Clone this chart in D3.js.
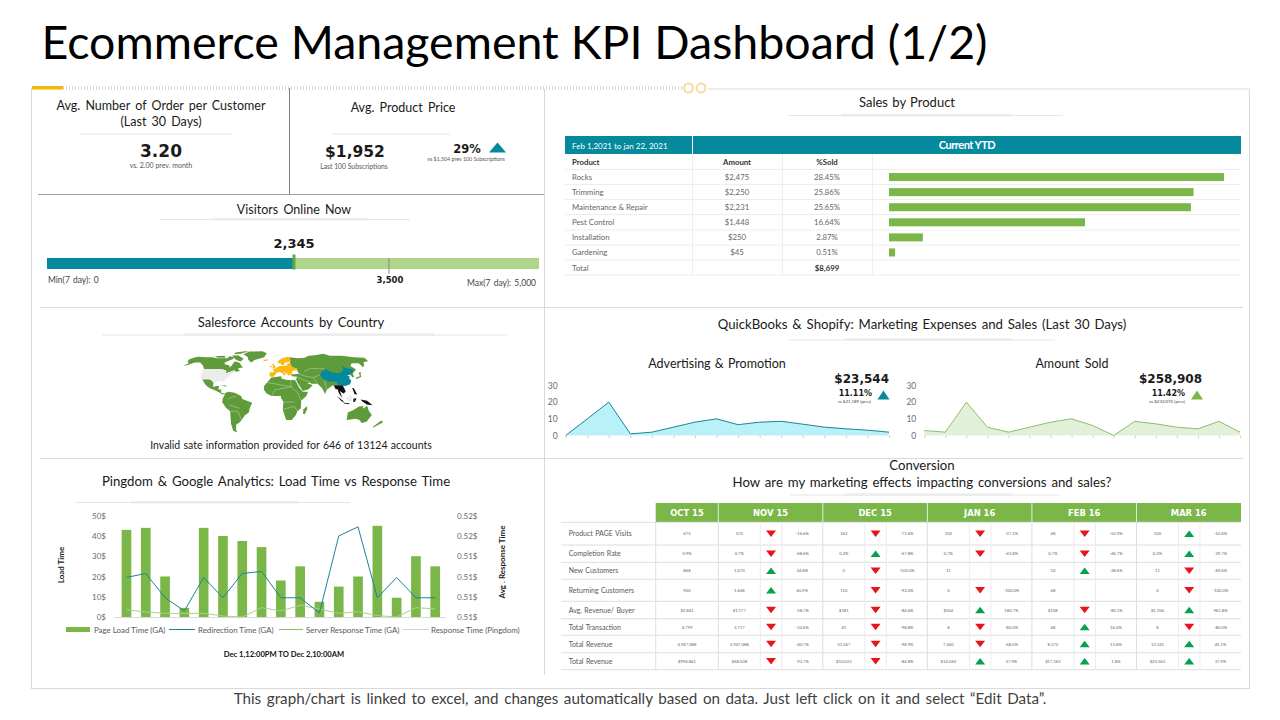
<!DOCTYPE html>
<html>
<head>
<meta charset="utf-8">
<script src="https://cdn.jsdelivr.net/npm/d3@7"></script>
<style>
  html, body { margin: 0; padding: 0; background: #fff; }
  svg { display: block; }
  text { font-family: Lato, "Open Sans", sans-serif; fill: #1a1a1a; }
  .num { font-family: "DejaVu Sans", sans-serif; font-weight: 700; }
  .axis text { fill: #6b6b6b; font-size: 8px; }
  .axis path { display: none; }
  .axis line { stroke: #cfcfcf; }
</style>
</head>
<body>
<div id="chart"></div>
<script>
const teal = "#05899c";
const green = "#7ab648";

// Sales by Product
const products = ["Rocks", "Trimming", "Maintenance & Repair", "Pest Control", "Installation", "Gardening"];
const productAmounts = [2475, 2250, 2231, 1448, 250, 45];
const productShares = ["28.45%", "25.86%", "25.65%", "16.64%", "2.87%", "0.51%"];

// Visitors gauge
const gaugeMax = 5000;
const gaugeFill = 2510; // length of the teal bar as drawn, a bit longer than the 2,345 label
const gaugeTarget = 3475; // tick as drawn, labelled 3,500

// QuickBooks & Shopify
const adSpend = [0, 10, 20, 1, 2, 5, 8, 10, 6.5, 8, 8.5, 6.8, 5, 4, 3.2, 2];
const amountSold = [3, 2, 20, 5, 2, 5, 8, 10, 6, 0, 8.5, 7, 5, 4, 8.5, 2];
const areaTicks = [0, 10, 20, 30];

// Pingdom & Google Analytics
const pageLoad = [43, 44, 20, 4.5, 44, 40, 37.5, 34.5, 18, 25, 7.5, 15, 20, 45, 9.5, 30, 25];
const redirection = [0.5139, 0.5143, 0.5119, 0.5106, 0.5139, 0.5119, 0.5143, 0.5145, 0.5119, 0.5119, 0.5104, 0.5180, 0.5189, 0.5119, 0.5139, 0.5119, 0.5119];
const serverResponse = [3.5, 2.5, 1.8, 1.8, 1.8, 0.5, 0, 4.6, 3, 5.8, 4, 1.8, 2.6, 0.7, 0, 4.6, 4];
const loadTicks = [0, 10, 20, 30, 40, 50];
const responseTicks = [0.510, 0.512, 0.514, 0.516, 0.518, 0.520];
const responseLabels = ["0.51$", "0.51$", "0.51$", "0.51$", "0.52$", "0.52$"];
const legendNames = ["Page Load Time (GA)", "Redirection Time (GA)", "Server Response Time (GA)", "Response Time (Pingdom)"];

// Conversion table
const months = ["NOV 15", "DEC 15", "JAN 16", "FEB 16", "MAR 16"];
const rowNames = ["Product PAGE Visits", "Completion Rate", "New Customers", "Returning Customers", "Avg. Revenue/ Buyer", "Total Transaction", "Total Revenue", "Total Revenue"];
const octValues = ["475", "0.9%", "868", "900", "$2,841", "4,799", "4,947,088", "$994,841"];
const monthValues = [
  ["570", "162", "102", "48", "100"],
  ["0.7%", "0.2%", "0.7%", "0.7%", "0.2%"],
  ["1,070", "0", "11", "10", "11"],
  ["1,448", "116", "0", "48", "0"],
  ["$1,177", "$181", "$504", "$108", "$1,104"],
  ["3,717", "41", "8", "48", "8"],
  ["2,947,088", "31,047", "7,560", "8,372", "13,141"],
  ["$68,508", "$10,022", "$14,560", "$17,162", "$23,563"]
];
const monthChanges = [
  ["-16.6%", "-71.6%", "-37.1%", "-52.9%", "-52.6%"],
  ["-68.6%", "-67.8%", "-43.8%", "-46.7%", "-39.7%"],
  ["24.8%", "-100.0%", "", "-28.6%", "-69.6%"],
  ["60.9%", "-92.0%", "-100.0%", "", "-100.0%"],
  ["-58.7%", "-84.6%", "180.7%", "-80.1%", "961.8%"],
  ["-22.6%", "-98.8%", "-80.0%", "16.0%", "-80.0%"],
  ["-40.7%", "-98.9%", "-68.0%", "13.8%", "45.1%"],
  ["-93.7%", "-84.8%", "37.9%", "1.8%", "37.9%"]
];
const monthArrows = [
  ["d", "d", "d", "d", "u"],
  ["d", "u", "d", "d", "u"],
  ["u", "d", "", "u", "d"],
  ["u", "d", "d", "", "d"],
  ["d", "d", "u", "d", "u"],
  ["d", "d", "d", "u", "d"],
  ["d", "d", "d", "u", "u"],
  ["d", "d", "u", "u", "u"]
];
const rowEdges = [522.3, 545, 562.3, 579.3, 601.3, 618.7, 635.3, 652.7, 669.7];

// Map outlines, rough [lon, lat] rings
const mapGreen = [
  [[-168,66],[-162,70],[-156,71],[-141,70],[-128,70],[-115,68],[-108,68],[-95,68],[-94,72],[-85,70],[-82,67],[-94,60],[-92,57],[-82,55],[-80,51],[-78,55],[-77,62],[-70,61],[-65,59],[-60,54],[-56,52],[-65,50],[-60,46],[-66,44],[-70,47],[-76,44],[-83,42],[-83,46],[-90,48],[-95,49],[-123,49],[-130,55],[-140,60],[-150,60],[-158,56],[-165,54],[-160,59],[-166,62]],
  [[-90,73],[-78,74],[-62,67],[-65,62],[-75,65],[-85,70]],
  [[-90,80],[-70,83],[-62,82],[-75,77],[-88,76]],
  [[-125,72],[-105,73],[-100,69],[-115,69]],
  [[-60,82],[-30,83],[-18,78],[-22,70],[-40,65],[-44,60],[-52,65],[-55,70],[-68,76]],
  [[-117,32],[-106,32],[-101,30],[-97,26],[-97,20],[-90,21],[-87,21],[-88,16],[-83,15],[-83,10],[-78,9],[-80,7],[-85,10],[-92,14],[-100,17],[-105,20],[-110,24]],
  [[-84,22],[-75,20],[-78,22.5]],
  [[-78,9],[-72,12],[-62,10],[-52,5],[-50,0],[-35,-6],[-39,-15],[-41,-22],[-48,-27],[-54,-34],[-58,-38],[-65,-42],[-68,-50],[-68,-55],[-74,-52],[-73,-40],[-70,-20],[-76,-14],[-81,-5],[-80,1],[-77,7]],
  [[-17,15],[-17,21],[-10,30],[-6,35],[10,37],[11,33],[20,31],[32,31],[35,25],[38,18],[43,12],[51,12],[48,5],[40,-3],[40,-15],[35,-20],[33,-26],[27,-34],[18,-34],[12,-17],[13,-5],[9,2],[9,5],[-5,5],[-13,9]],
  [[49,-12],[50,-16],[47,-25],[44,-24],[44,-17]],
  [[28,59],[30,70],[45,68],[60,69],[70,73],[85,74],[105,77],[115,73],[140,73],[160,70],[180,69],[178,63],[165,60],[162,56],[156,52],[155,59],[142,59],[135,54],[140,48],[132,43],[130,42],[129,36],[126,35],[125,39],[121,40],[108,21],[100,20],[92,22],[90,22],[80,15],[77,8],[73,18],[67,25],[57,25],[56,27],[51,25],[56,24],[59,22],[52,16],[43,13],[39,20],[35,28],[34,32],[36,36],[28,37],[26,40],[40,41],[38,47],[38,50],[30,52]],
  [[130,32],[136,34],[141,36],[142,40],[145,44],[141,43],[139,37],[132,35]],
  [[114,-22],[122,-18],[130,-12],[136,-12],[136,-16],[142,-11],[146,-19],[153,-26],[150,-37],[143,-39],[137,-34],[130,-32],[116,-34]],
  [[173,-35],[178,-38],[168,-47],[167,-45]]
];
const mapGray = [
  [[-124,49],[-95,49],[-90,48],[-83,46],[-83,42],[-76,44],[-70,47],[-66,44],[-70,42],[-75,38],[-76,35],[-81,31],[-80,25],[-83,29],[-90,29],[-97,26],[-101,30],[-106,32],[-117,32],[-122,37]],
  [[109,1],[116,7],[119,1],[116,-4],[110,-3]]
];
const mapYellow = [
  [[-9,37],[-9,43],[-1,44],[-4,48],[3,51],[8,54],[14,54],[21,55],[24,59],[28,59],[30,52],[38,50],[38,47],[30,46],[28,41],[23,38],[20,41],[13,45],[18,40],[15,38],[12,42],[8,44],[3,43],[0,39],[-2,36],[-5,36]],
  [[5,59],[5,62],[14,68],[25,71],[30,70],[30,62],[22,60],[18,60],[16,56],[12,56],[10,59]],
  [[-5,50],[1,51],[0,54],[-3,58],[-6,57],[-3,54]],
  [[-10,52],[-6,52],[-6,55],[-9,54]],
  [[-24,65],[-14,66],[-14,64],[-20,63]]
];
const mapTeal = [
  [[74,39],[80,45],[87,49],[97,43],[108,42],[117,47],[120,53],[127,50],[135,48],[131,43],[124,40],[121,39],[118,39],[122,37],[120,33],[122,30],[118,24],[110,21],[106,22],[100,22],[98,28],[88,28],[79,31]]
];
const mapBlack = [
  [[92,22],[100,22],[106,22],[108,16],[109,12],[105,9],[100,13],[103,2],[100,6],[98,10],[97,16],[94,16]],
  [[95,5],[104,-3],[106,-6],[101,-3]],
  [[105,-6],[114,-7],[114,-8.5],[106,-7.5]],
  [[120,1],[125,1],[122,-5],[120,-5]],
  [[131,-1],[141,-3],[150,-10],[141,-9],[134,-4]],
  [[120,18],[122,18],[124,13],[126,7],[122,8],[121,13]]
];
const mapBorders = [
  [[-13,27],[25,20],[25,31]], [[-5,5],[0,15],[25,20],[35,10],[40,-3]], [[12,-17],[30,-12],[35,-20]], [[13,-5],[30,-5]],
  [[-70,-20],[-58,-20],[-54,-34]], [[-72,0],[-60,5]], [[-70,-10],[-55,-15]],
  [[40,41],[50,37],[62,35],[67,25]], [[62,35],[74,39]], [[50,45],[62,50],[87,49]], [[36,36],[48,30],[56,27]], [[80,15],[79,31]]
];

const svg = d3.select("#chart").append("svg").attr("width", 1280).attr("height", 720);

function label(x, y, txt, size, opts = {}) {
  return svg.append("text")
    .attr("x", x).attr("y", y)
    .attr("text-anchor", opts.anchor || "middle")
    .attr("font-size", size)
    .attr("class", opts.cls || null)
    .attr("font-weight", opts.weight || null)
    .attr("word-spacing", opts.spacing || null)
    .style("fill", opts.fill || null)
    .text(txt);
}

function underline(x0, x1, t0, t1, y) {
  svg.append("rect").attr("x", t0).attr("y", y - 2).attr("width", t1 - t0).attr("height", 3).attr("fill", "#f2f2f2");
  svg.append("line").attr("x1", x0).attr("x2", x1).attr("y1", y).attr("y2", y).attr("stroke", "#e6e6e6");
}

function rule(x1, y1, x2, y2, color, w) {
  return svg.append("line").attr("x1", x1).attr("y1", y1).attr("x2", x2).attr("y2", y2)
    .attr("stroke", color).attr("stroke-width", w || 1);
}

function triangle(cx, cy, w, h, color, down) {
  const pts = down
    ? [[cx - w / 2, cy - h / 2], [cx + w / 2, cy - h / 2], [cx, cy + h / 2]]
    : [[cx - w / 2, cy + h / 2], [cx + w / 2, cy + h / 2], [cx, cy - h / 2]];
  svg.append("polygon").attr("points", pts.join(" ")).attr("fill", color);
}

// title and footer
label(41.5, 59, "Ecommerce Management KPI Dashboard (1/2)", 46.5, { anchor: "start", fill: "#000" });
label(640, 704, "This graph/chart is linked to excel, and changes automatically based on data. Just left click on it and select “Edit Data”.", 15.2, { fill: "#404040", spacing: 1.7 });

// frame
rule(31.5, 88, 31.5, 688.5, "#d9d9d9");
rule(1249.5, 89, 1249.5, 688.5, "#d9d9d9");
rule(31, 688.5, 1250, 688.5, "#d9d9d9");
rule(708, 89, 1250, 89, "#dddddd");
rule(63, 88, 683, 88, "#d6d6d6", 3.5).attr("stroke-dasharray", "1 2");
svg.append("rect").attr("x", 32).attr("y", 86).attr("width", 31).attr("height", 3.5).attr("fill", "#f5b800");
[688.5, 701].forEach(cx => {
  svg.append("circle").attr("cx", cx).attr("cy", 88).attr("r", 4.5)
    .attr("fill", "#fff").attr("stroke", "#f6dc9a").attr("stroke-width", 2);
});

// panel dividers
rule(289.5, 88, 289.5, 194, "#7f7f7f");
rule(38, 194.5, 544, 194.5, "#a0a0a0");
rule(544.5, 89, 544.5, 675, "#d9d9d9");
rule(40, 307.5, 1243, 307.5, "#d9d9d9");
rule(40, 458.5, 1243, 458.5, "#d9d9d9");

// top left cards
label(161, 110, "Avg. Number of Order per Customer", 12.5, { spacing: 2 });
label(161, 126, "(Last 30 Days)", 12.5, { spacing: 2 });
underline(80, 232, 80, 80, 134);
label(161, 157, "3.20", 17, { cls: "num" });
label(161, 168, "vs. 2.00 prev. month", 7, { fill: "#555" });
label(403, 112, "Avg. Product Price", 12.5, { spacing: 2 });
underline(332, 450, 332, 332, 134);
label(355, 157, "$1,952", 15.5, { cls: "num" });
label(354, 169, "Last 100 Subscriptions", 6.8, { fill: "#555" });
label(467, 153, "29%", 11.5, { cls: "num" });
triangle(497.5, 147.5, 17, 10, teal);
label(466, 161, "vs $1,504 prev 100 Subscriptions", 5.3, { fill: "#555" });

// visitors gauge
label(294, 214, "Visitors Online Now", 12.5, { spacing: 2 });
underline(160, 410, 213, 368, 219.5);
label(294, 248, "2,345", 13, { cls: "num" });
const gaugeX = d3.scaleLinear().domain([0, gaugeMax]).range([47, 539]);
svg.append("rect").attr("x", gaugeX(0)).attr("y", 258).attr("width", gaugeX(gaugeMax) - gaugeX(0)).attr("height", 11).attr("fill", "#aed58a");
svg.append("rect").attr("x", gaugeX(0)).attr("y", 258).attr("width", gaugeX(gaugeFill) - gaugeX(0)).attr("height", 11).attr("fill", teal);
svg.append("rect").attr("x", gaugeX(gaugeFill) - 1.5).attr("y", 254.5).attr("width", 3).attr("height", 15).attr("fill", "#62a845");
rule(gaugeX(gaugeTarget), 258, gaugeX(gaugeTarget), 274, "#8a8a8a");
label(48, 283, "Min(7 day): 0", 8.5, { anchor: "start", fill: "#444", spacing: 1 });
label(gaugeX(gaugeTarget) + 1, 283, "3,500", 8.5, { cls: "num" });
label(536, 286, "Max(7 day): 5,000", 8.5, { anchor: "end", fill: "#444", spacing: 1 });

// sales by product table
label(907, 107, "Sales by Product", 13, { spacing: 1 });
underline(788, 1063, 842, 1012, 115.5);
svg.append("rect").attr("x", 565).attr("y", 136).attr("width", 676).attr("height", 18).attr("fill", teal);
rule(692.5, 136, 692.5, 154, "#fff");
label(572, 149, "Feb 1,2021 to jan 22, 2021", 8, { anchor: "start", fill: "#fff" });
label(967, 149, "Current YTD", 11, { fill: "#fff", weight: 700 }).attr("letter-spacing", -0.5);
label(572, 165, "Product", 7.8, { anchor: "start", weight: 700, fill: "#333" });
label(737, 165, "Amount", 7.8, { weight: 700, fill: "#333" });
label(827, 165, "%Sold", 7.8, { weight: 700, fill: "#333" });

const salesRow = d3.scaleBand().domain(products).range([169.5, 260]);
const salesBar = d3.scaleLinear().domain([0, d3.max(productAmounts)]).range([889, 1224]);
[169.5, 184.5, 199.5, 214.5, 230, 245, 260, 275].forEach(y => rule(565, y, 1241, y, "#eef0e6"));
[692.5, 782.5, 872.5].forEach(x => rule(x, 154, x, 275, "#eef0e6"));
products.forEach((p, i) => {
  const mid = salesRow(p) + salesRow.bandwidth() / 2;
  label(572, mid + 3, p, 7.8, { anchor: "start", fill: "#666" });
  label(737, mid + 3, "$" + d3.format(",")(productAmounts[i]), 7.8, { fill: "#666" });
  label(827, mid + 3, productShares[i], 7.8, { fill: "#666" });
});
svg.append("g").selectAll("rect").data(productAmounts).join("rect")
  .attr("x", salesBar(0))
  .attr("y", (d, i) => salesRow(products[i]) + salesRow.bandwidth() / 2 - 4)
  .attr("width", d => salesBar(d) - salesBar(0))
  .attr("height", 8)
  .attr("fill", green);
label(572, 271, "Total", 7.8, { anchor: "start", fill: "#666" });
label(827, 271, "$8,699", 7.8, { weight: 700, fill: "#333" });

// world map
label(291, 327, "Salesforce Accounts by Country", 13, { spacing: 2 });
underline(102, 507, 185, 434, 335);
const projection = d3.geoNaturalEarth1().scale(43).translate([0, 0]);
const ringLine = d3.line().x(d => projection(d)[0]).y(d => projection(d)[1]).curve(d3.curveLinearClosed);
const borderLine = d3.line().x(d => projection(d)[0]).y(d => projection(d)[1]);
const mapGroup = svg.append("g").attr("transform", "translate(275,399) scale(1,0.81)");
[[mapGreen, "#5f9b3a"], [mapGray, "#ececec"], [mapYellow, "#fbb914"], [mapTeal, "#05899c"], [mapBlack, "#111"]].forEach(([rings, color]) => {
  mapGroup.append("g").selectAll("path").data(rings).join("path")
    .attr("d", ringLine)
    .attr("fill", color);
});
mapGroup.append("g").selectAll("path").data(mapBorders).join("path")
  .attr("d", borderLine)
  .attr("fill", "none")
  .attr("stroke", "#cfe3c0")
  .attr("stroke-width", 0.5);
label(291, 449, "Invalid sate information provided for 646 of 13124 accounts", 10.5, { spacing: 0.6 });

// quickbooks & shopify
label(922, 329, "QuickBooks & Shopify: Marketing Expenses and Sales (Last 30 Days)", 13.2, { spacing: 1.5 });
underline(788, 1055, 845, 1012, 340);

function areaChart(values, x0, x1, fill, stroke) {
  const x = d3.scaleLinear().domain([0, values.length - 1]).range([x0, x1]);
  const y = d3.scaleLinear().domain([0, 30]).range([435.5, 385.5]);
  const area = d3.area().x((d, i) => x(i)).y0(y(0)).y1(d => y(d));
  const line = d3.line().x((d, i) => x(i)).y(d => y(d));
  svg.append("path").datum(values).attr("d", area).attr("fill", fill);
  svg.append("path").datum(values).attr("d", line).attr("fill", "none").attr("stroke", stroke).attr("stroke-width", 1);
  svg.append("g").attr("class", "axis").attr("transform", `translate(0,${y(0)})`)
    .call(d3.axisBottom(x).ticks(values.length - 1).tickSize(2.5).tickFormat(""));
  const yAxis = svg.append("g").attr("class", "axis").attr("transform", `translate(${x0 - 5},0)`)
    .call(d3.axisLeft(y).tickValues(areaTicks).tickSize(0));
  yAxis.selectAll("text").attr("dy", "0.3em").style("font-size", "8.5px");
}

label(717, 368, "Advertising & Promotion", 12.5, { spacing: 1 });
areaChart(adSpend, 565.7, 889, "#b9f1f8", "#1c8496");
label(889, 383, "$23,544", 12, { anchor: "end", cls: "num" });
label(872, 396, "11.11%", 8, { anchor: "end", cls: "num" });
triangle(883.5, 395, 12, 9, teal);
label(871, 403, "vs $21,189 (prev)", 4.4, { anchor: "end", fill: "#444" });

label(1072, 368, "Amount Sold", 12.5, { spacing: 2 });
areaChart(amountSold, 924.3, 1240, "#e2efd9", "#8cbf6a");
label(1202, 383, "$258,908", 12, { anchor: "end", cls: "num" });
label(1185, 396, "11.42%", 8, { anchor: "end", cls: "num" });
triangle(1197, 395, 12, 9, green);
label(1185, 403, "vs $232,070 (prev)", 4.4, { anchor: "end", fill: "#444" });

// pingdom combo chart
label(276, 486, "Pingdom & Google Analytics: Load Time vs Response Time", 13.2, { spacing: 1.5 });
underline(75, 350, 131, 298, 502.5);

const comboX = d3.scaleBand().domain(d3.range(pageLoad.length)).range([112, 449.7]).padding(0.5);
const comboY = d3.scaleLinear().domain([0, 50]).range([617, 515.7]);
const comboY2 = d3.scaleLinear().domain([0.510, 0.520]).range([617, 515.7]);
const comboMid = i => comboX(i) + comboX.bandwidth() / 2;

svg.append("g").selectAll("rect").data(pageLoad).join("rect")
  .attr("x", (d, i) => comboX(i))
  .attr("y", d => comboY(d))
  .attr("width", comboX.bandwidth())
  .attr("height", d => comboY(0) - comboY(d))
  .attr("fill", green);
rule(114, 617.5, 446, 617.5, "#d9d9d9");

svg.append("path").datum(serverResponse)
  .attr("d", d3.line().x((d, i) => comboMid(i)).y(d => comboY(d)))
  .attr("fill", "none").attr("stroke", "#a9d18e").attr("stroke-width", 1);
svg.append("path").datum(redirection)
  .attr("d", d3.line().x((d, i) => comboMid(i)).y(d => comboY2(d)))
  .attr("fill", "none").attr("stroke", "#1c8496").attr("stroke-width", 1);

svg.append("g").attr("class", "axis").attr("transform", "translate(109,0)")
  .call(d3.axisLeft(comboY).tickValues(loadTicks).tickSize(0).tickFormat(d => d + "$"));
svg.append("g").attr("class", "axis").attr("transform", "translate(454,0)")
  .call(d3.axisRight(comboY2).tickValues(responseTicks).tickSize(0).tickFormat((d, i) => responseLabels[i]));

label(0, 0, "Load Time", 8, { weight: 700 }).attr("transform", "translate(64,565) rotate(-90)");
label(0, 0, "Avg . Response Time", 8, { weight: 700 }).attr("transform", "translate(505,562) rotate(-90)");

svg.append("rect").attr("x", 66).attr("y", 627).attr("width", 24).attr("height", 5).attr("fill", green);
rule(169, 629.5, 195, 629.5, "#1c8496");
rule(279, 629.5, 303, 629.5, "#8cbf6a");
rule(403, 629.5, 429, 629.5, "#d0d0d0");
[94, 198, 306, 431].forEach((x, i) => label(x, 632.5, legendNames[i], 7.9, { anchor: "start", fill: "#595959" }));
label(284, 657, "Dec 1,12:00PM TO Dec 2,10:00AM", 7.6, { weight: 700, fill: "#111" });

// conversion table
label(922, 470, "Conversion", 13.2);
label(922, 487, "How are my marketing effects impacting conversions and sales?", 13.2, { spacing: 1.5 });
underline(790, 1060, 845, 1012, 495);

const monthX = d3.scaleBand().domain(months).range([718.3, 1241]);
const monthW = monthX.bandwidth();
const subValue = 42;
const subArrow = 63.5;

svg.append("rect").attr("x", 655.7).attr("y", 503).attr("width", 1241 - 655.7).attr("height", 19).attr("fill", green);
label(687, 516, "OCT 15", 8.4, { cls: "num", fill: "#fff" });
months.forEach(m => {
  label(monthX(m) + monthW / 2, 516, m, 8.4, { cls: "num", fill: "#fff" });
  rule(monthX(m), 503, monthX(m), 522, "#dff0d0");
});
rowEdges.forEach(y => rule(561, y, 1241, y, "#dedede", 1));
rule(655.7, 522, 655.7, 669.7, "#dedede");
months.forEach(m => {
  rule(monthX(m), 522, monthX(m), 669.7, "#dedede");
  rule(monthX(m) + subValue, 522, monthX(m) + subValue, 669.7, "#ececec");
  rule(monthX(m) + subArrow, 522, monthX(m) + subArrow, 669.7, "#ececec");
});
rowNames.forEach((name, r) => {
  const mid = (rowEdges[r] + rowEdges[r + 1]) / 2;
  label(568.7, mid + 2.5, name, 7, { anchor: "start", fill: "#595959", spacing: 0.6 });
  label(687, mid + 1.5, octValues[r], 4.2, { fill: "#666" });
  months.forEach((m, c) => {
    const left = monthX(m);
    label(left + subValue / 2, mid + 1.5, monthValues[r][c], 4.2, { fill: "#666" });
    label(left + (subArrow + monthW) / 2, mid + 1.5, monthChanges[r][c], 4.2, { fill: "#666" });
    if (monthArrows[r][c] === "d") triangle(left + (subValue + subArrow) / 2, mid, 10, 6.5, "#e8141c", true);
    if (monthArrows[r][c] === "u") triangle(left + (subValue + subArrow) / 2, mid, 10, 6.5, "#05a050", false);
  });
});
</script>
</body>
</html>
